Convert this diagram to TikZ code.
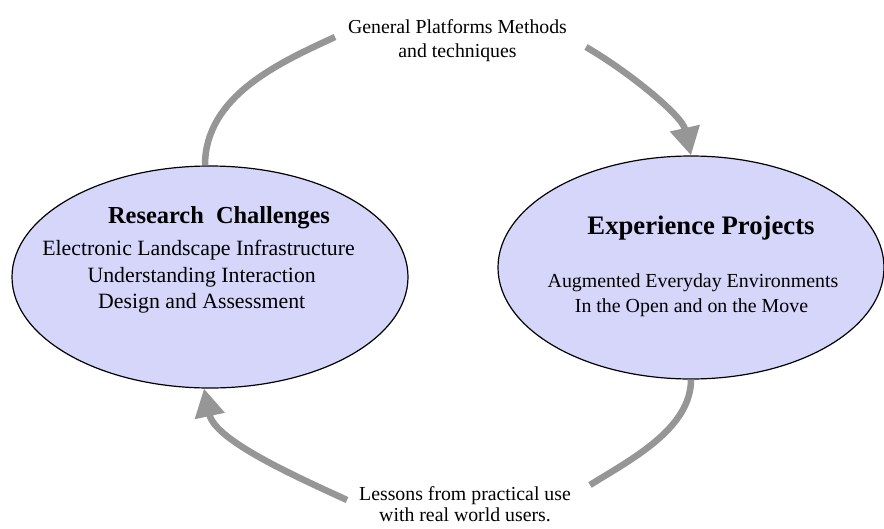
\documentclass[tikz,border=0pt]{standalone}
\usepackage{fontspec}
\setmainfont{Liberation Serif}
\usetikzlibrary{shapes.geometric,arrows.meta}
\definecolor{ellfill}{RGB}{213,214,250}
\definecolor{arrgray}{RGB}{150,150,150}
\begin{document}
\begin{tikzpicture}[x=1pt,y=-1pt,
  bubble/.style={ellipse, draw=black, line width=1.2pt, fill=ellfill, inner sep=0pt},
  flowplain/.style={draw=arrgray, line width=6.5pt},
  flow/.style={flowplain, -{Triangle[length=28pt,width=29pt]}},
  txt/.style={anchor=base, inner sep=0pt},
  lbl/.style={txt, font=\fontsize{19.8}{24}\selectfont},
  rcbody/.style={txt, font=\fontsize{21.8}{26}\selectfont},
  epbody/.style={txt, font=\fontsize{19.9}{24}\selectfont}]
\clip (0,0) rectangle (884,528);
\fill[white] (0,0) rectangle (884,528);

% ellipses
\node[bubble, minimum width=396pt, minimum height=222pt] (rc) at (210,277) {};
\node[bubble, minimum width=386pt, minimum height=223pt] (ep) at (691,267.5) {};

% free ends of the connectors
\coordinate (tl) at (335,37);
\coordinate (tr) at (586,47);
\coordinate (br) at (590,485);
\coordinate (bl) at (347,500);

% connectors
\draw[flowplain] ([xshift=-5pt]rc.north) .. controls +(0,-70) and +(-54,25) .. (tl);
\draw[flow] (tr) .. controls +(43,25) and +(-9,-40) .. (ep.north);
\draw[flowplain] (ep.south) .. controls +(0,50) and +(38,-24) .. (br);
\draw[flow] (bl) .. controls +(-50,-23) and +(11,52) .. ([xshift=-6pt]rc.south);

% labels
\node[lbl] (top1) at (457.5,33) {General Platforms Methods};
\node[lbl] (top2) at (457.5,57) {and techniques};
\node[lbl] (bot1) at (465,500) {Lessons from practical use};
\node[lbl] (bot2) at (465,521) {with real world users.};

% research challenges
\node[txt, font=\fontsize{24.4}{28}\selectfont\bfseries] (rct) at (219,223) {Research\ \ Challenges};
\node[rcbody] (rc1) at (198.5,255) {Electronic Landscape Infrastructure};
\node[rcbody] (rc2) at (201.7,282) {Understanding Interaction};
\node[rcbody] (rc3) at (201.7,308) {Design and Assessment};

% experience projects
\node[txt, font=\fontsize{26.7}{30}\selectfont\bfseries] (ept) at (701,234) {Experience Projects};
\node[epbody] (ep1) at (693,287.7) {Augmented Everyday Environments};
\node[epbody] (ep2) at (691.5,312.7) {In the Open and on the Move};
\end{tikzpicture}
\end{document}
